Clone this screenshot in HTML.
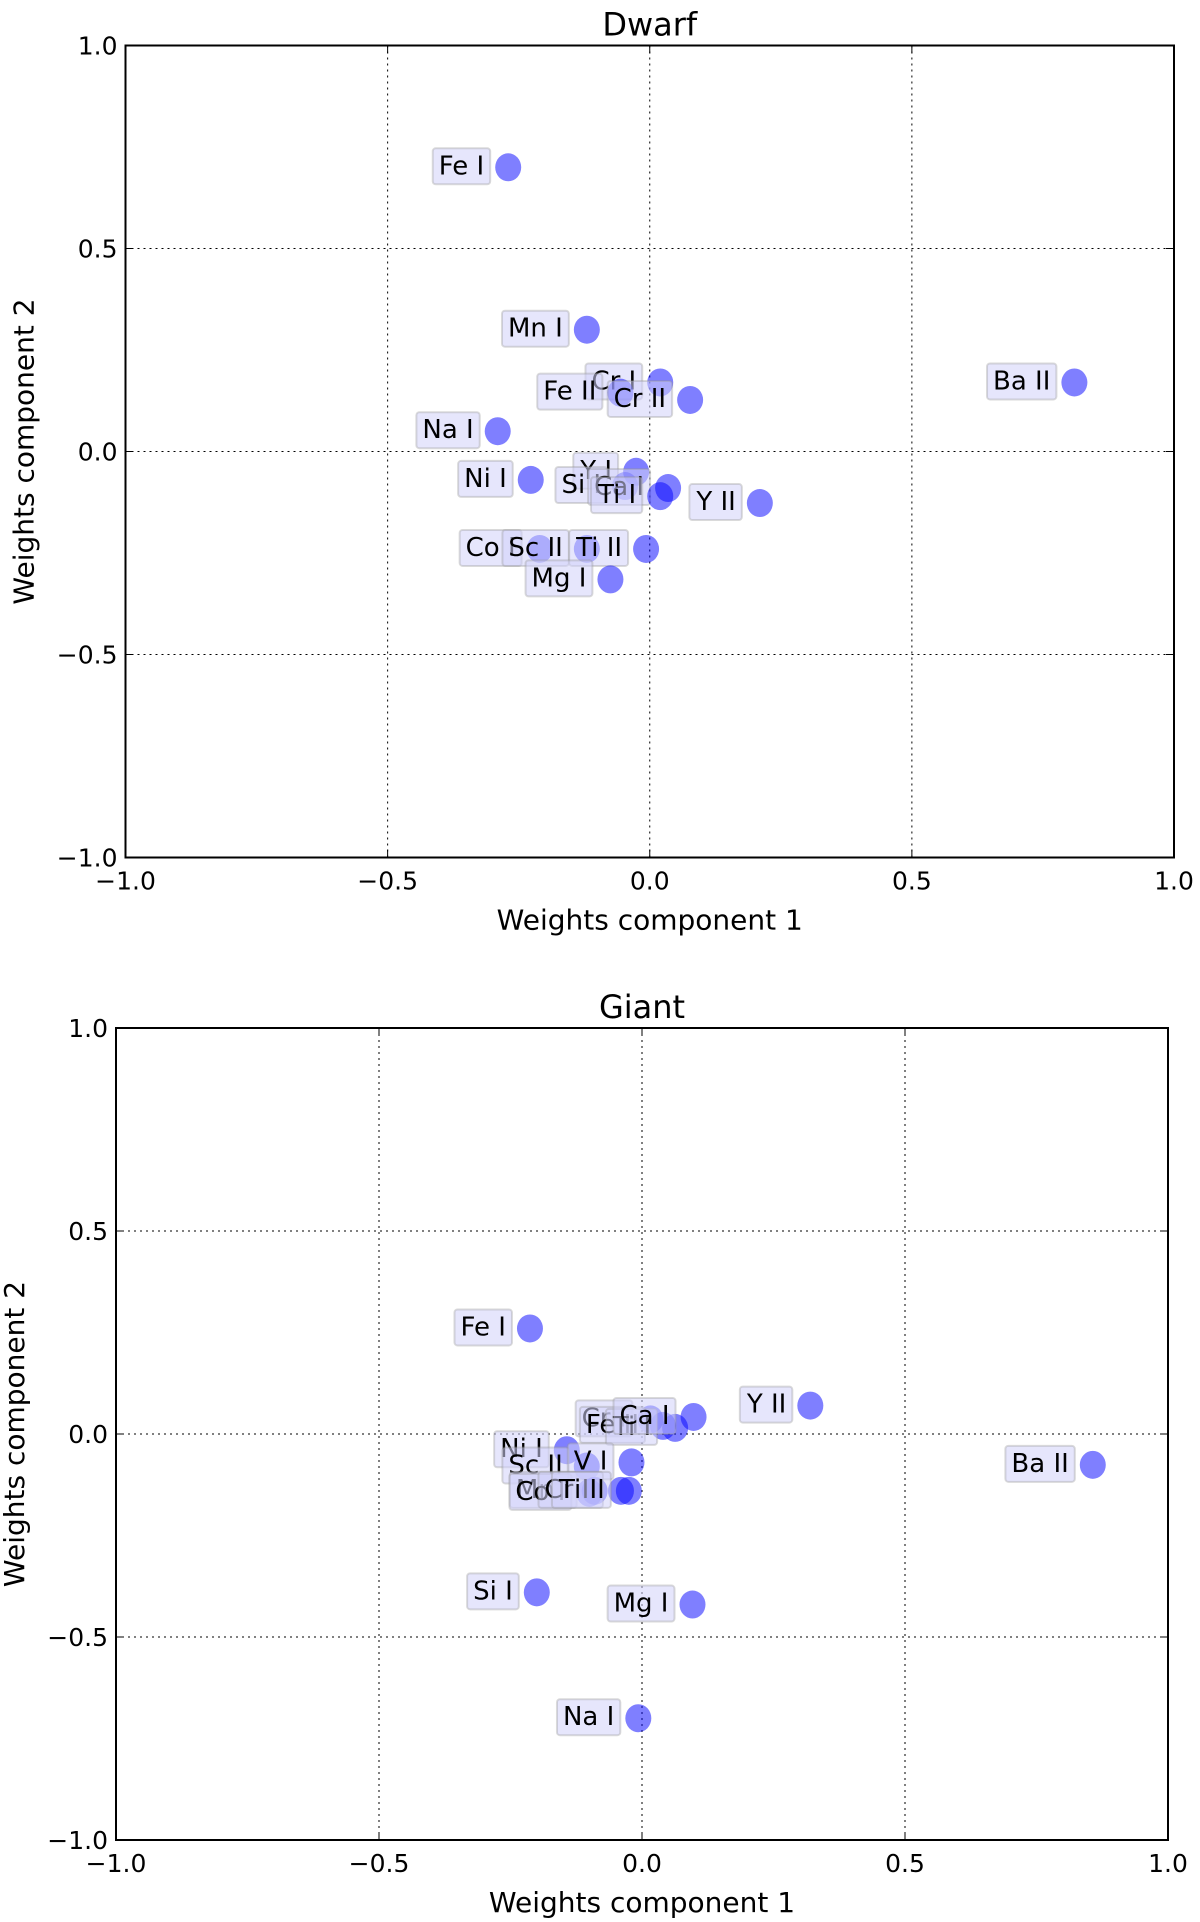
<!DOCTYPE html>
<html><head><meta charset="utf-8"><style>
body{margin:0;background:#fff}
svg{display:block;font-family:"DejaVu Sans","Liberation Sans",sans-serif}
</style></head><body>
<svg id="fig" width="1200" height="1922"></svg>
<script>
const dwarfLabels=["Fe I","Mn I","Cr I","Fe II","Cr II","Ba II","Na I","Ni I","Y I","Si I","Ca I","Ti I","Y II","Co I","Sc II","Ti II","Mg I"];
const dwarfX=[-0.27,-0.12,0.02,-0.056,0.077,0.81,-0.29,-0.227,-0.026,-0.047,0.035,0.02,0.21,-0.21,-0.12,-0.007,-0.075];
const dwarfY=[0.70,0.30,0.17,0.145,0.127,0.17,0.05,-0.07,-0.05,-0.085,-0.09,-0.11,-0.127,-0.24,-0.24,-0.24,-0.315];
const giantLabels=["Fe I","Y II","Ba II","Cr I","Fe II","Ti I","Ca I","Ni I","Sc II","V I","Mn I","Co I","Cr II","Ti II","Si I","Mg I","Na I"];
const giantX=[-0.213,0.32,0.857,0.016,0.04,0.063,0.098,-0.143,-0.105,-0.02,-0.09,-0.1,-0.04,-0.025,-0.2,0.096,-0.007];
const giantY=[0.26,0.07,-0.076,0.036,0.02,0.015,0.042,-0.04,-0.08,-0.07,-0.14,-0.145,-0.14,-0.14,-0.39,-0.42,-0.70];
const tickVals=[-1.0,-0.5,0.0,0.5,1.0];
const tickText=["\u22121.0","\u22120.5","0.0","0.5","1.0"];

const NS="http://www.w3.org/2000/svg";
const svg=document.getElementById('fig');
function mk(tag,attrs,parent){const e=document.createElementNS(NS,tag);for(const k in attrs)e.setAttribute(k,attrs[k]);(parent||svg).appendChild(e);return e;}

function panel(name,title,L,R,T,B,xs,ys,labels){
  const g=mk('g',{});
  
  
  const sx=v=>L+(v+1)/2*(R-L);
  const sy=v=>B-(v+1)/2*(B-T);
  tickVals.forEach((v,i)=>{
    if(i>0&&i<4){
      const gx=mk('line',{x1:sx(v),x2:sx(v),y1:T,y2:B,stroke:'#000','stroke-width':1,'stroke-dasharray':'2,4'},g);
      
      
      const gy=mk('line',{x1:L,x2:R,y1:sy(v),y2:sy(v),stroke:'#000','stroke-width':1,'stroke-dasharray':'2,4'},g);
      
      
    }
    const tx=mk('text',{x:sx(v),y:B+32,'font-size':25,'text-anchor':'middle'},g);
    tx.textContent=tickText[i];
    
    
    const ty=mk('text',{x:L-8,y:sy(v)+9,'font-size':25,'text-anchor':'end'},g);
    ty.textContent=tickText[i];
    
    
    mk('line',{x1:sx(v),x2:sx(v),y1:B,y2:B-8,stroke:'#000','stroke-width':1},g);
    mk('line',{x1:sx(v),x2:sx(v),y1:T,y2:T+8,stroke:'#000','stroke-width':1},g);
    mk('line',{x1:L,x2:L+8,y1:sy(v),y2:sy(v),stroke:'#000','stroke-width':1},g);
    mk('line',{x1:R,x2:R-8,y1:sy(v),y2:sy(v),stroke:'#000','stroke-width':1},g);
  });
  xs.forEach((xv,i)=>{
    const px=sx(xv),py=sy(ys[i]);
    const c=mk('ellipse',{cx:px,cy:py,rx:13,ry:14,fill:'rgba(0,0,255,0.5)'},g);
    
    
    const lg=mk('g',{},g);
    
    
    const r=mk('rect',{rx:3,fill:'rgba(210,210,250,0.55)',stroke:'rgba(150,150,150,0.35)','stroke-width':2},lg);
    const t=mk('text',{x:px-24,y:py+7,'font-size':26,'text-anchor':'end'},lg);
    t.textContent=labels[i];
    const bb=t.getBBox();
    r.setAttribute('x',bb.x-6);r.setAttribute('y',bb.y-3);
    r.setAttribute('width',bb.width+12);r.setAttribute('height',bb.height+6);
  });
  const fr=mk('rect',{x:L,y:T,width:R-L,height:B-T,fill:'none',stroke:'#000','stroke-width':2},g);
  
  
  const tt=mk('text',{x:(L+R)/2,y:T-10,'font-size':32,'text-anchor':'middle'},g);
  tt.textContent=title;
  
  
  const xl=mk('text',{x:(L+R)/2,y:B+72,'font-size':28,'text-anchor':'middle'},g);
  xl.textContent='Weights component 1';
  
  
  const yx=L-92,yy=(T+B)/2;
  const yl=mk('text',{x:yx,y:yy,'font-size':28,'text-anchor':'middle',transform:`rotate(-90 ${yx} ${yy})`},g);
  yl.textContent='Weights component 2';
  
  
}
panel('dwarf','Dwarf',125.5,1174,45.5,857.5,dwarfX,dwarfY,dwarfLabels);
panel('giant','Giant',116,1168,1028,1840,giantX,giantY,giantLabels);
</script>
</body></html>
